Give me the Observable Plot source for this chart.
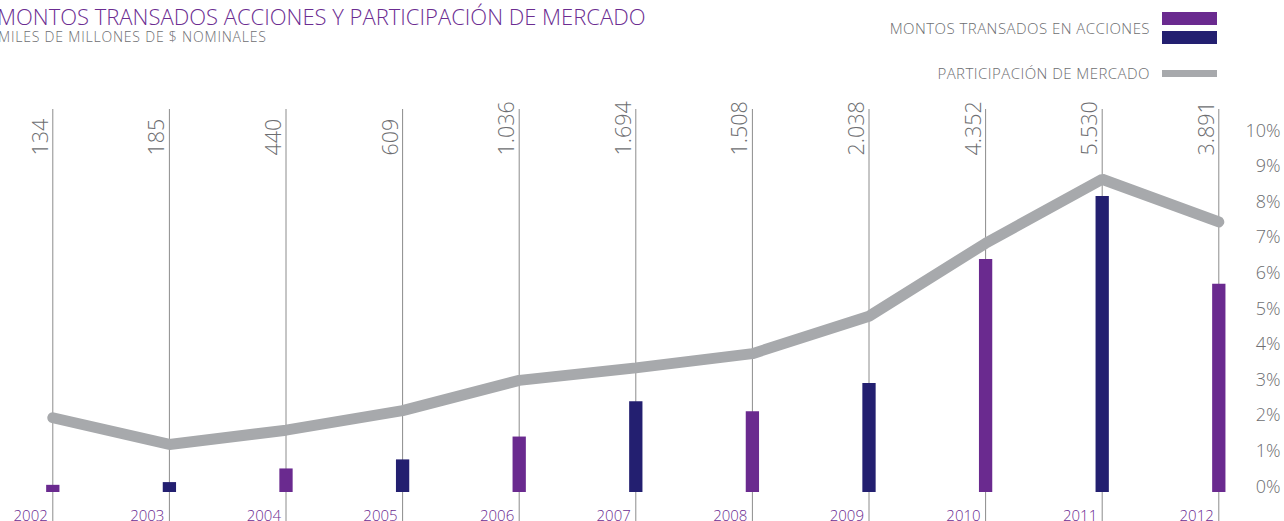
<!DOCTYPE html>
<html>
<head>
<meta charset="utf-8">
<script src="https://cdn.jsdelivr.net/npm/d3@7"></script>
<script src="https://cdn.jsdelivr.net/npm/@observablehq/plot@0.6"></script>
<style>
  body { margin: 0; background: #fff; font-family: "Open Sans", sans-serif; }
  #wrap { position: relative; width: 1284px; height: 521px; overflow: hidden; }
  #title { position: absolute; left: -3px; top: 4px; font-size: 22px; line-height: 24px; font-weight: 300; color: #6b2c91; white-space: nowrap; }
  #sub { position: absolute; left: -2px; top: 29px; font-size: 14px; line-height: 16px; font-weight: 300; color: #6d6e71; white-space: nowrap; letter-spacing: 0.8px; }
  .leg { position: absolute; right: 134px; font-size: 15px; font-weight: 300; color: #6d6e71; white-space: nowrap; letter-spacing: 0.45px; }
  .sw { position: absolute; left: 1162px; width: 55px; }
  #chart { position: absolute; left: 0; top: 100px; }
</style>
</head>
<body>
<div id="wrap">
  <div id="title">MONTOS TRANSADOS ACCIONES Y PARTICIPACIÓN DE MERCADO</div>
  <div id="sub">MILES DE MILLONES DE $ NOMINALES</div>
  <div class="leg" style="top:18px">MONTOS TRANSADOS EN ACCIONES</div>
  <div class="sw" style="top:12px;height:13px;background:#6a2a8f"></div>
  <div class="sw" style="top:31px;height:13px;background:#231f70"></div>
  <div class="leg" style="top:63px">PARTICIPACIÓN DE MERCADO</div>
  <div class="sw" style="top:70px;height:7px;background:#a7a9ac"></div>
  <div id="chart"></div>
</div>
<script>
// ---- data ----
const years = [2002, 2003, 2004, 2005, 2006, 2007, 2008, 2009, 2010, 2011, 2012];
const montos = [134, 185, 440, 609, 1036, 1694, 1508, 2038, 4352, 5530, 3891];
const montoLabels = ["134", "185", "440", "609", "1.036", "1.694", "1.508", "2.038", "4.352", "5.530", "3.891"];
const participacion = [2.1, 1.35, 1.75, 2.3, 3.15, 3.5, 3.9, 4.95, 7.0, 8.8, 7.6];
const pctTicks = [0, 1, 2, 3, 4, 5, 6, 7, 8, 9, 10];
// bars share the chart's vertical space: miles de millones per 1 % of the axis
const MONTO_POR_PUNTO = 665;

const PURPLE = "#6a2a8f", NAVY = "#231f70", GRAY = "#a7a9ac", TEXT = "#6d6e71";

const data = years.map((year, i) => ({
  year,
  monto: montos[i],
  label: montoLabels[i],
  pct: participacion[i],
  color: i % 2 === 0 ? PURPLE : NAVY
}));

const chart = Plot.plot({
  width: 1284,
  height: 421,
  marginTop: 9,
  marginBottom: 0,
  marginLeft: 0,
  marginRight: 4,
  style: { fontFamily: "Open Sans", background: "transparent" },
  x: { type: "linear", domain: [2002, 2012], range: [52.3, 1218.3], axis: null },
  y: { domain: [0, 10], range: [392, 36], axis: null },
  color: { type: "identity" },
  marks: [
    Plot.ruleX(years, { stroke: "#8c8c8c", strokeWidth: 1 }),
    Plot.ruleX(data, { x: "year", y1: 0, y2: d => d.monto / MONTO_POR_PUNTO, stroke: "color", strokeWidth: 13.3 }),
    Plot.line(data, { x: "year", y: "pct", stroke: GRAY, strokeWidth: 11, strokeLinecap: "round", strokeLinejoin: "miter" }),
    Plot.text(data, { x: "year", text: "label", frameAnchor: "top", dy: 46, dx: -5, rotate: -90, textAnchor: "start", lineAnchor: "bottom", fontSize: 21.5, fontWeight: 300, fill: TEXT }),
    Plot.text(data, { x: "year", text: d => String(d.year), frameAnchor: "bottom", textAnchor: "end", lineAnchor: "bottom", dx: -5, dy: -1, fontSize: 15, fontWeight: 300, fill: "#6b2c91" }),
    Plot.text(pctTicks, { y: d => d, text: d => d + "%", frameAnchor: "right", textAnchor: "end", lineAnchor: "bottom", fontSize: 18, fontWeight: 300, fill: TEXT })
  ]
});
document.getElementById("chart").appendChild(chart);
</script>
</body>
</html>
